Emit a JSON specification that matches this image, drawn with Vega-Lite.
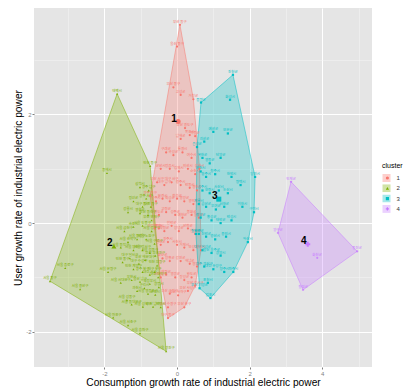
{
"$schema":"https://vega.github.io/schema/vega-lite/v6.json",
"width":338,"height":359,
"autosize":{"type":"none"},
"padding":{"left":34,"top":8,"right":38,"bottom":24},
"background":"white",
"config":{"view":{"fill":"#E5E5E5","stroke":null},"font":"Liberation Sans"},
"datasets":{
"hulls":[
{"c":"1","o":0,"x":0.08,"y":3.65},{"c":"1","o":1,"x":0.45,"y":2.28},{"c":"1","o":2,"x":0.62,"y":1.0},{"c":"1","o":3,"x":0.66,"y":-0.5},{"c":"1","o":4,"x":0.5,"y":-1.15},{"c":"1","o":5,"x":0.2,"y":-1.55},{"c":"1","o":6,"x":-0.25,"y":-1.75},{"c":"1","o":7,"x":-0.45,"y":-1.0},{"c":"1","o":8,"x":-0.62,"y":-0.1},{"c":"1","o":9,"x":-0.74,"y":0.5},{"c":"1","o":10,"x":0.08,"y":3.65},
{"c":"2","o":0,"x":-1.65,"y":2.38},{"c":"2","o":1,"x":-0.74,"y":1.05},{"c":"2","o":2,"x":-0.3,"y":-2.36},{"c":"2","o":3,"x":-3.5,"y":-1.07},{"c":"2","o":4,"x":-1.65,"y":2.38},
{"c":"3","o":0,"x":1.54,"y":2.73},{"c":"3","o":1,"x":2.15,"y":0.85},{"c":"3","o":2,"x":2.12,"y":0.2},{"c":"3","o":3,"x":1.95,"y":-0.35},{"c":"3","o":4,"x":1.55,"y":-0.9},{"c":"3","o":5,"x":0.92,"y":-1.38},{"c":"3","o":6,"x":0.62,"y":-1.2},{"c":"3","o":7,"x":0.52,"y":-0.2},{"c":"3","o":8,"x":0.55,"y":1.4},{"c":"3","o":9,"x":0.66,"y":2.22},{"c":"3","o":10,"x":1.54,"y":2.73},
{"c":"4","o":0,"x":3.14,"y":0.76},{"c":"4","o":1,"x":4.96,"y":-0.52},{"c":"4","o":2,"x":3.47,"y":-1.23},{"c":"4","o":3,"x":2.78,"y":-0.18},{"c":"4","o":4,"x":3.14,"y":0.76}
],
"pts":[
{"c":"1","x":0.08,"y":3.65,"n":"부산 동구"},{"c":"1","x":0.45,"y":2.28,"n":"거창군"},{"c":"1","x":0.62,"y":1.0,"n":"김해시"},{"c":"1","x":0.66,"y":-0.5,"n":"양산시"},{"c":"1","x":0.5,"y":-1.15,"n":"부산 강서구"},{"c":"1","x":0.2,"y":-1.55,"n":"부산 북구"},{"c":"1","x":-0.25,"y":-1.75,"n":"대구 중구"},{"c":"1","x":-0.45,"y":-1.0,"n":"인천 남구"},{"c":"1","x":-0.62,"y":-0.1,"n":"대전 중구"},{"c":"1","x":-0.74,"y":0.5,"n":"광주 동구"},
{"c":"1","x":0.0,"y":3.25,"n":"울산 중구"},{"c":"1","x":-0.1,"y":2.5,"n":"부산 중구"},{"c":"1","x":0.1,"y":2.36,"n":"고성군"},{"c":"1","x":0.22,"y":1.75,"n":"부산 영도구"},{"c":"1","x":0.35,"y":1.62,"n":"목포시"},{"c":"1","x":0.1,"y":1.55,"n":"남해군"},{"c":"1","x":0.5,"y":1.6,"n":"하동군"},
{"c":"1","x":-0.3,"y":1.3,"n":"구례군"},{"c":"1","x":-0.1,"y":1.25,"n":"곡성군"},{"c":"1","x":0.15,"y":1.3,"n":"통영시"},{"c":"1","x":0.4,"y":1.2,"n":"여수시"},
{"c":"1","x":-0.45,"y":1.0,"n":"군산시"},{"c":"1","x":-0.2,"y":1.0,"n":"정읍시"},{"c":"1","x":0.05,"y":0.95,"n":"김제시"},{"c":"1","x":0.3,"y":1.0,"n":"익산시"},{"c":"1","x":0.5,"y":0.9,"n":"순천시"},
{"c":"1","x":-0.55,"y":0.75,"n":"부산 서구"},{"c":"1","x":-0.35,"y":0.7,"n":"대구 남구"},{"c":"1","x":-0.15,"y":0.75,"n":"대구 서구"},{"c":"1","x":0.1,"y":0.7,"n":"경주시"},{"c":"1","x":0.35,"y":0.65,"n":"안동시"},{"c":"1","x":0.55,"y":0.6,"n":"영천시"},
{"c":"1","x":-0.58,"y":0.4,"n":"상주시"},{"c":"1","x":-0.4,"y":0.45,"n":"문경시"},{"c":"1","x":-0.2,"y":0.4,"n":"의성군"},{"c":"1","x":0.0,"y":0.45,"n":"청송군"},{"c":"1","x":0.2,"y":0.4,"n":"영양군"},{"c":"1","x":0.45,"y":0.35,"n":"영덕군"},
{"c":"1","x":-0.5,"y":0.15,"n":"청도군"},{"c":"1","x":-0.3,"y":0.2,"n":"고령군"},{"c":"1","x":-0.05,"y":0.15,"n":"성주군"},{"c":"1","x":0.15,"y":0.1,"n":"예천군"},{"c":"1","x":0.4,"y":0.15,"n":"봉화군"},{"c":"1","x":0.6,"y":0.1,"n":"울진군"},
{"c":"1","x":-0.5,"y":-0.1,"n":"밀양시"},{"c":"1","x":-0.35,"y":-0.15,"n":"의령군"},{"c":"1","x":-0.15,"y":-0.05,"n":"함안군"},{"c":"1","x":0.05,"y":-0.15,"n":"창녕군"},{"c":"1","x":0.3,"y":-0.1,"n":"산청군"},{"c":"1","x":0.5,"y":-0.2,"n":"함양군"},
{"c":"1","x":-0.45,"y":-0.4,"n":"합천군"},{"c":"1","x":-0.25,"y":-0.35,"n":"진주시"},{"c":"1","x":0.0,"y":-0.4,"n":"사천시"},{"c":"1","x":0.2,"y":-0.45,"n":"거제시"},{"c":"1","x":0.45,"y":-0.5,"n":"보성군"},
{"c":"1","x":-0.4,"y":-0.65,"n":"화순군"},{"c":"1","x":-0.2,"y":-0.7,"n":"장흥군"},{"c":"1","x":0.1,"y":-0.7,"n":"강진군"},{"c":"1","x":0.35,"y":-0.75,"n":"해남군"},{"c":"1","x":0.55,"y":-0.8,"n":"영암군"},
{"c":"1","x":-0.3,"y":-0.95,"n":"함평군"},{"c":"1","x":-0.05,"y":-1.0,"n":"영광군"},{"c":"1","x":0.2,"y":-1.05,"n":"장성군"},{"c":"1","x":0.4,"y":-1.0,"n":"완도군"},
{"c":"1","x":0.03,"y":-1.33,"n":"부산 사하구"},{"c":"1","x":0.3,"y":-1.25,"n":"부산 사상구"},{"c":"1","x":-0.2,"y":-1.3,"n":"부산 금정구"},{"c":"1","x":-0.25,"y":-1.55,"n":"부산 수영구"},
{"c":"2","x":-1.65,"y":2.38,"n":"태백시"},{"c":"2","x":-0.74,"y":1.05,"n":"인천 동구"},{"c":"2","x":-0.95,"y":0.3,"n":"대구 동구"},{"c":"2","x":-0.62,"y":-0.9,"n":"대구 북구"},{"c":"2","x":-0.3,"y":-2.36,"n":"서울 광진구"},{"c":"2","x":-3.5,"y":-1.07,"n":"서울 중구"},
{"c":"2","x":-1.93,"y":0.92,"n":"동해시"},{"c":"2","x":-3.08,"y":-0.83,"n":"서울 종로구"},{"c":"2","x":-2.67,"y":-1.22,"n":"서울 용산구"},{"c":"2","x":-1.76,"y":-1.74,"n":"서울 마포구"},{"c":"2","x":-1.35,"y":-1.88,"n":"서울 서초구"},{"c":"2","x":-1.02,"y":-2.03,"n":"서울 송파구"},
{"c":"2","x":-1.38,"y":-1.42,"n":"서울 성동구"},{"c":"2","x":-1.25,"y":-1.5,"n":"서울 동대문구"},{"c":"2","x":-0.94,"y":-1.54,"n":"서울 성북구"},{"c":"2","x":-0.66,"y":-1.54,"n":"부산 남구"},{"c":"2","x":-0.8,"y":-1.3,"n":"서울 영등포구"},{"c":"2","x":-1.55,"y":-1.1,"n":"서울 서대문구"},{"c":"2","x":-1.9,"y":-0.9,"n":"서울 은평구"},
{"c":"2","x":-1.02,"y":0.66,"n":"삼척시"},{"c":"2","x":-0.78,"y":0.6,"n":"광주 남구"},{"c":"2","x":-0.85,"y":0.45,"n":"광주 서구"},{"c":"2","x":-1.2,"y":0.4,"n":"정선군"},{"c":"2","x":-0.72,"y":0.3,"n":"대전 동구"},
{"c":"2","x":-1.02,"y":0.18,"n":"영월군"},{"c":"2","x":-0.8,"y":0.15,"n":"부산 동래구"},{"c":"2","x":-1.35,"y":0.2,"n":"강릉시"},{"c":"2","x":-0.7,"y":0.05,"n":"부산 연제구"},
{"c":"2","x":-1.2,"y":-0.07,"n":"속초시"},{"c":"2","x":-0.95,"y":-0.05,"n":"서울 도봉구"},{"c":"2","x":-0.7,"y":-0.15,"n":"서울 강북구"},{"c":"2","x":-1.45,"y":-0.15,"n":"서울 금천구"},
{"c":"2","x":-1.1,"y":-0.3,"n":"서울 중랑구"},{"c":"2","x":-0.85,"y":-0.3,"n":"서울 노원구"},{"c":"2","x":-0.62,"y":-0.38,"n":"서울 구로구"},{"c":"2","x":-1.35,"y":-0.35,"n":"서울 관악구"},{"c":"2","x":-1.55,"y":-0.45,"n":"서울 동작구"},
{"c":"2","x":-1.2,"y":-0.5,"n":"서울 양천구"},{"c":"2","x":-0.95,"y":-0.5,"n":"서울 강서구"},{"c":"2","x":-0.75,"y":-0.55,"n":"서울 강동구"},{"c":"2","x":-0.6,"y":-0.6,"n":"부산 부산진구"},
{"c":"2","x":-0.88,"y":-0.68,"n":"부산 해운대구"},{"c":"2","x":-1.05,"y":-0.75,"n":"대구 수성구"},{"c":"2","x":-1.3,"y":-0.65,"n":"대구 달서구"},{"c":"2","x":-1.5,"y":-0.72,"n":"인천 중구"},{"c":"2","x":-0.55,"y":-0.78,"n":"인천 부평구"},
{"c":"2","x":-1.2,"y":-0.85,"n":"인천 계양구"},{"c":"2","x":-0.95,"y":-0.9,"n":"광주 북구"},{"c":"2","x":-0.75,"y":-0.95,"n":"대전 서구"},{"c":"2","x":-0.52,"y":-1.0,"n":"대전 대덕구"},
{"c":"2","x":-1.02,"y":-1.08,"n":"울산 남구"},{"c":"2","x":-1.25,"y":-1.05,"n":"부천시"},{"c":"2","x":-0.75,"y":-1.12,"n":"의정부시"},{"c":"2","x":-0.5,"y":-1.18,"n":"광명시"},
{"c":"2","x":-1.1,"y":-1.25,"n":"과천시"},{"c":"2","x":-0.9,"y":-1.2,"n":"구리시"},{"c":"2","x":-0.6,"y":-1.32,"n":"군포시"},{"c":"2","x":-0.45,"y":-1.55,"n":"안양시"},
{"c":"3","x":1.54,"y":2.73,"n":"진천군"},{"c":"3","x":2.15,"y":0.85,"n":"당진시"},{"c":"3","x":2.12,"y":0.2,"n":"구미시"},{"c":"3","x":1.95,"y":-0.35,"n":"아산시"},{"c":"3","x":1.55,"y":-0.9,"n":"파주시"},{"c":"3","x":0.92,"y":-1.38,"n":"김포시"},{"c":"3","x":0.62,"y":-1.2,"n":"부산 기장군"},{"c":"3","x":0.52,"y":-0.2,"n":"칠곡군"},{"c":"3","x":0.55,"y":1.4,"n":"음성군"},{"c":"3","x":0.66,"y":2.22,"n":"증평군"},
{"c":"3","x":1.46,"y":2.27,"n":"화성시"},{"c":"3","x":1.0,"y":1.68,"n":"예산군"},{"c":"3","x":1.4,"y":1.65,"n":"보은군"},{"c":"3","x":0.75,"y":1.5,"n":"괴산군"},{"c":"3","x":0.7,"y":1.2,"n":"옥천군"},{"c":"3","x":0.9,"y":1.1,"n":"영동군"},{"c":"3","x":1.2,"y":1.2,"n":"단양군"},
{"c":"3","x":0.65,"y":0.95,"n":"제천시"},{"c":"3","x":0.8,"y":0.85,"n":"충주시"},{"c":"3","x":1.05,"y":0.9,"n":"청주시"},{"c":"3","x":1.5,"y":0.85,"n":"천안시"},{"c":"3","x":1.75,"y":0.7,"n":"평택시"},
{"c":"3","x":0.7,"y":0.6,"n":"공주시"},{"c":"3","x":0.9,"y":0.55,"n":"보령시"},{"c":"3","x":1.15,"y":0.6,"n":"서산시"},{"c":"3","x":1.4,"y":0.55,"n":"논산시"},
{"c":"3","x":0.6,"y":0.35,"n":"계룡시"},{"c":"3","x":0.8,"y":0.3,"n":"금산군"},{"c":"3","x":1.07,"y":0.25,"n":"부여군"},{"c":"3","x":1.3,"y":0.3,"n":"서천군"},{"c":"3","x":1.8,"y":0.3,"n":"이천시"},
{"c":"3","x":0.65,"y":0.1,"n":"청양군"},{"c":"3","x":0.95,"y":0.05,"n":"홍성군"},{"c":"3","x":1.2,"y":0.0,"n":"태안군"},{"c":"3","x":1.5,"y":0.05,"n":"안성시"},
{"c":"3","x":0.6,"y":-0.2,"n":"완주군"},{"c":"3","x":0.8,"y":-0.25,"n":"진안군"},{"c":"3","x":1.05,"y":-0.3,"n":"경산시"},{"c":"3","x":1.35,"y":-0.25,"n":"용인시"},
{"c":"3","x":0.7,"y":-0.5,"n":"대구 달성군"},{"c":"3","x":0.95,"y":-0.55,"n":"울산 울주군"},{"c":"3","x":1.2,"y":-0.6,"n":"광양시"},
{"c":"3","x":0.75,"y":-0.8,"n":"광주 광산구"},{"c":"3","x":1.0,"y":-0.85,"n":"대전 유성구"},{"c":"3","x":1.3,"y":-0.9,"n":"양주시"},{"c":"3","x":0.85,"y":-1.1,"n":"포천시"},
{"c":"4","x":3.14,"y":0.76,"n":"인제군"},{"c":"4","x":2.78,"y":-0.18,"n":"양구군"},{"c":"4","x":3.47,"y":-1.23,"n":"철원군"},{"c":"4","x":4.96,"y":-0.52,"n":"옹진군"},{"c":"4","x":3.86,"y":-0.64,"n":"화천군"}
],
"centers":[
{"c":"1","x":0.03,"y":1.87},{"c":"2","x":-1.74,"y":-0.43},{"c":"3","x":1.15,"y":0.44},{"c":"4","x":3.6,"y":-0.39}
]
},
"layer":[
{"data":{"name":"hulls"},
 "mark":{"type":"line","strokeWidth":0.5,"fillOpacity":0.3},
 "encoding":{
  "x":{"field":"x","type":"quantitative","scale":{"domain":[-3.94,5.37],"nice":false,"zero":false},
   "axis":{"values":[-3,-2,-1,0,1,2,3,4,5],"title":"Consumption growth rate of industrial electric power","titleFontSize":10.2,"titleFontWeight":"normal","titleColor":"black","titlePadding":1,
    "labelExpr":"datum.value % 2 === 0 ? '' + datum.value : ''","labelOverlap":false,"labelFontSize":6,"labelColor":"#7F7F7F","labelPadding":1,"tickSize":2,
    "tickColor":{"condition":{"test":"datum.value % 2 === 0","value":"#7F7F7F"},"value":"transparent"},
    "domain":false,"grid":true,
    "gridColor":{"condition":{"test":"datum.value % 2 === 0","value":"#FFFFFF"},"value":"#F4F4F4"},
    "gridWidth":{"condition":{"test":"datum.value % 2 === 0","value":1},"value":0.5},"gridOpacity":1}},
  "y":{"field":"y","type":"quantitative","scale":{"domain":[-2.65,3.96],"nice":false,"zero":false},
   "axis":{"values":[-2,-1,0,1,2,3],"title":"User growth rate of industrial electric power","titleFontSize":10.2,"titleFontWeight":"normal","titleColor":"black","titlePadding":2,
    "labelExpr":"datum.value % 2 === 0 ? '' + datum.value : ''","labelOverlap":false,"labelFontSize":6,"labelColor":"#7F7F7F","labelPadding":1,"tickSize":2,
    "tickColor":{"condition":{"test":"datum.value % 2 === 0","value":"#7F7F7F"},"value":"transparent"},
    "domain":false,"grid":true,
    "gridColor":{"condition":{"test":"datum.value % 2 === 0","value":"#FFFFFF"},"value":"#F4F4F4"},
    "gridWidth":{"condition":{"test":"datum.value % 2 === 0","value":1},"value":0.5},"gridOpacity":1}},
  "order":{"field":"o","type":"quantitative"},
  "detail":{"field":"c","type":"nominal"},
  "stroke":{"field":"c","type":"nominal","scale":{"range":["#F8766D","#7CAE00","#00BFC4","#C77CFF"]},"legend":null},
  "fill":{"field":"c","type":"nominal","scale":{"range":["#F8766D","#7CAE00","#00BFC4","#C77CFF"]},
   "legend":{"orient":"none","legendX":348,"legendY":154,"title":"cluster","titleColor":"transparent","titleFontSize":7,"titleFontWeight":"normal","padding":0,"rowPadding":2.3,"clipHeight":8,"symbolType":"square","symbolSize":64,"symbolStrokeWidth":0.5,"symbolOpacity":0.35,"labelExpr":"''","labelFontSize":6}}
 }},
{"data":{"name":"pts"},
 "mark":{"type":"text","fontSize":3.5,"dy":-3,"font":"Noto Sans CJK KR"},
 "encoding":{
  "x":{"field":"x","type":"quantitative"},
  "y":{"field":"y","type":"quantitative"},
  "text":{"field":"n"},
  "fill":{"field":"c","type":"nominal"}
 }},
{"data":{"name":"pts"},
 "mark":{"type":"point","filled":true,"size":5,"opacity":1},
 "encoding":{
  "x":{"field":"x","type":"quantitative"},
  "y":{"field":"y","type":"quantitative"},
  "color":{"field":"c","type":"nominal","title":"cluster","scale":{"domain":["1","2","3","4"],"range":["#F8766D","#7CAE00","#00BFC4","#C77CFF"]},
   "legend":{"orient":"none","legendX":348,"legendY":154,"titleFontSize":7,"titleFontWeight":"normal","titleColor":"black","labelFontSize":6,"labelColor":"#333333","symbolSize":10,"symbolOffset":2.4,"labelOffset":6,"clipHeight":8,"rowPadding":2.3,"padding":0}},
  "shape":{"field":"c","type":"nominal","title":"cluster","scale":{"domain":["1","2","3","4"],"range":["circle","triangle-up","square","cross"]}}
 }},
{"data":{"name":"centers"},
 "mark":{"type":"point","filled":true,"size":25,"opacity":1},
 "encoding":{
  "x":{"field":"x","type":"quantitative"},
  "y":{"field":"y","type":"quantitative"},
  "color":{"field":"c","type":"nominal","title":"cluster"},
  "shape":{"field":"c","type":"nominal","title":"cluster"}
 }},
{"data":{"name":"centers"},
 "mark":{"type":"text","fontSize":10,"fontWeight":"bold","dx":-4,"dy":-3,"color":"black"},
 "encoding":{
  "x":{"field":"x","type":"quantitative"},
  "y":{"field":"y","type":"quantitative"},
  "text":{"field":"c"}
 }}
]
}
